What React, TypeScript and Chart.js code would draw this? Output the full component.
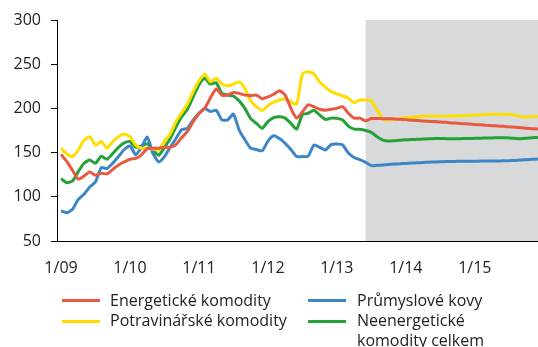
import React, { useEffect, useRef } from "react";
import { Chart, registerables } from "chart.js";

Chart.register(...registerables);

// Monthly commodity price indices, January 2009 – December 2015 (84 months).
const tickLabels = ["1/09", "1/10", "1/11", "1/12", "1/13", "1/14", "1/15"];
const monthsPerTick = 12;
const forecastStartMonth = 53; // 6/13: forecast period begins

const energy = [
  148, 140, 130, 120, 123.5, 128, 124.5, 126.5, 126, 131, 136, 139.5,
  142.5, 143.5, 147.5, 154.5, 155, 155, 156, 156, 159, 167, 174, 185,
  194, 200, 212, 222, 215, 215, 218, 217, 215, 214.5, 215, 211,
  213, 216, 220, 215, 200, 189, 196, 204, 202, 199, 198, 199,
  200, 202, 194.5, 189, 189, 186, 188.5, 188.6, 188.4, 188.3, 188, 187.6,
  187.3, 186.7, 186.4, 185.8, 185.4, 185.1, 184.5, 184.2, 183.6, 183.3, 182.7, 182.4,
  181.8, 181.4, 180.8, 180.5, 180, 179.7, 179.1, 178.7, 178.1, 177.6, 177.1, 176.6,
];

const food = [
  155, 148.5, 145.5, 153, 164, 168, 158.5, 162.5, 155, 162.5, 168, 171,
  168, 158.5, 155, 155, 154, 153, 163, 171, 185, 195, 205, 219,
  231, 239, 230, 234, 227.5, 225.5, 227.5, 230, 222.5, 208.5, 202, 197.5,
  203, 207, 209.5, 210.5, 207.5, 205, 239, 241.5, 239, 230, 224, 219,
  216.5, 214, 211.5, 206.5, 209.5, 209.5, 208.5, 198, 188.5, 187, 187.6, 188.7,
  189.5, 190, 190.6, 191, 191.4, 191.3, 191.4, 191.1, 191.4, 191.6, 191.8, 192.1,
  192.5, 192.8, 192.9, 193.3, 193.4, 193.5, 193.2, 192.3, 190.7, 190.1, 190.6, 191.2,
];

const metals = [
  84, 82, 86, 97, 103, 111, 117, 133, 132, 138, 145.5, 153.5,
  157.5, 147.5, 156, 167.5, 149, 139.5, 145.5, 156, 166, 176, 177.5, 187,
  194.5, 200, 196.5, 198, 187, 187, 193.5, 175.5, 164.5, 155, 153.5, 152,
  163, 169, 166, 160.5, 153.5, 145.5, 145.5, 146, 158.5, 156, 153, 159,
  159.7, 158.6, 149.5, 144.5, 142, 139, 135.3, 135.6, 136, 136.5, 137, 137.3,
  137.8, 138.1, 138.5, 138.8, 139.2, 139.4, 139.6, 139.8, 140, 140.1, 140.1, 140.2,
  140.3, 140.4, 140.4, 140.5, 140.5, 140.7, 140.9, 141.2, 141.6, 142, 142.4, 142.7,
];

const nonEnergy = [
  120.5, 116, 118, 128.5, 138, 141.5, 138, 146, 142.5, 149, 156, 161,
  162.5, 156, 157.5, 160, 153, 147, 156, 166, 179, 190.5, 199, 213,
  226.5, 234, 227.5, 229, 217, 215, 214, 208.5, 200, 188.5, 183, 177.5,
  185, 189.5, 190.5, 189, 183, 176.5, 193, 194.5, 198, 192.5, 187.5, 189,
  188.7, 187, 180, 176.5, 176.3, 175, 172.8, 168, 164.2, 163.1, 163.5, 164,
  164.4, 164.8, 165.1, 165.3, 165.6, 165.9, 166, 165.8, 165.6, 165.7, 165.9, 166,
  166.1, 166.3, 166.5, 166.6, 166.9, 166.8, 166.5, 166.1, 165.8, 166.2, 166.7, 167.2,
];

const seriesNames = [
  "Energetické komodity",
  "Potravinářské komodity",
  "Průmyslové kovy",
  "Neenergetické komodity celkem",
];
const seriesValues = [energy, food, metals, nonEnergy];
const seriesColors = ["#E8593F", "#FFDD00", "#3D86C6", "#24A138"];

const FONT = "'Open Sans', 'Noto Sans', sans-serif";
const TEXT = "#222222";
const FONT_SIZE = 16;

// Grey band behind the forecast months
const forecastBand = {
  id: "forecastBand",
  beforeDraw(chart: any) {
    const { ctx, chartArea, scales } = chart;
    const x0 = scales.x.getPixelForValue(forecastStartMonth);
    ctx.save();
    ctx.fillStyle = "#D8D9DB";
    ctx.fillRect(x0, chartArea.top, chartArea.right - x0, chartArea.bottom - chartArea.top);
    ctx.restore();
  },
};

export default function App() {
  const canvasRef = useRef<HTMLCanvasElement | null>(null);

  useEffect(() => {
    if (!canvasRef.current) return;
    const chart = new Chart(canvasRef.current, {
      type: "line",
      data: {
        datasets: seriesValues.map((vals, k) => ({
          label: seriesNames[k],
          data: vals.map((v, i) => ({ x: i, y: v })),
          borderColor: seriesColors[k],
          borderWidth: 3,
          pointRadius: 0,
          tension: 0.2,
          fill: false,
        })),
      },
      options: {
        responsive: false,
        animation: false,
        layout: { padding: { top: 20, right: 0, bottom: 0, left: 0 } },
        plugins: { legend: { display: false }, tooltip: { enabled: false } },
        scales: {
          x: {
            type: "linear",
            min: -0.7,
            max: energy.length - 1,
            afterFit: (s: any) => {
              s.height = 49;
            },
            afterBuildTicks: (s: any) => {
              s.ticks = tickLabels.map((_, k) => ({ value: k * monthsPerTick }));
            },
            grid: { display: true, drawOnChartArea: false, drawTicks: false },
            border: { display: true, color: "#000", width: 1 },
            ticks: {
              autoSkip: false,
              maxRotation: 0,
              padding: 18,
              color: TEXT,
              font: { family: FONT, size: FONT_SIZE },
              callback: (_v: any, i: number) => tickLabels[i],
            },
          },
          y: {
            min: 50,
            max: 300,
            afterFit: (s: any) => {
              s.width = 57;
            },
            grid: {
              display: true,
              drawOnChartArea: false,
              drawTicks: true,
              tickLength: 6,
              color: "#000",
            },
            border: { display: true, color: "#000", width: 1 },
            ticks: {
              stepSize: 50,
              padding: 10,
              color: TEXT,
              font: { family: FONT, size: FONT_SIZE },
            },
          },
        },
      },
      plugins: [forecastBand],
    });
    return () => chart.destroy();
  }, []);

  const legendText: React.CSSProperties = {
    position: "absolute",
    fontFamily: FONT,
    fontSize: FONT_SIZE,
    lineHeight: "19.5px",
    color: TEXT,
    whiteSpace: "nowrap",
  };
  const swatch = (color: string, left: number, top: number): React.CSSProperties => ({
    position: "absolute",
    left,
    top,
    width: 38,
    height: 3,
    background: color,
  });

  return (
    <div
      style={{
        position: "absolute",
        left: 0,
        top: 0,
        width: 538,
        height: 347,
        background: "#fff",
        overflow: "hidden",
      }}
    >
      <canvas ref={canvasRef} width={538} height={290} style={{ display: "block" }} />
      <div style={swatch(seriesColors[0], 62, 299)} />
      <div style={{ ...legendText, left: 110, top: 291 }}>{seriesNames[0]}</div>
      <div style={swatch(seriesColors[1], 62, 320)} />
      <div style={{ ...legendText, left: 110, top: 311 }}>{seriesNames[1]}</div>
      <div style={swatch(seriesColors[2], 308, 299)} />
      <div style={{ ...legendText, left: 357, top: 291 }}>{seriesNames[2]}</div>
      <div style={swatch(seriesColors[3], 308, 320)} />
      <div style={{ ...legendText, left: 357, top: 311 }}>
        Neenergetické
        <br />
        komodity celkem
      </div>
    </div>
  );
}
